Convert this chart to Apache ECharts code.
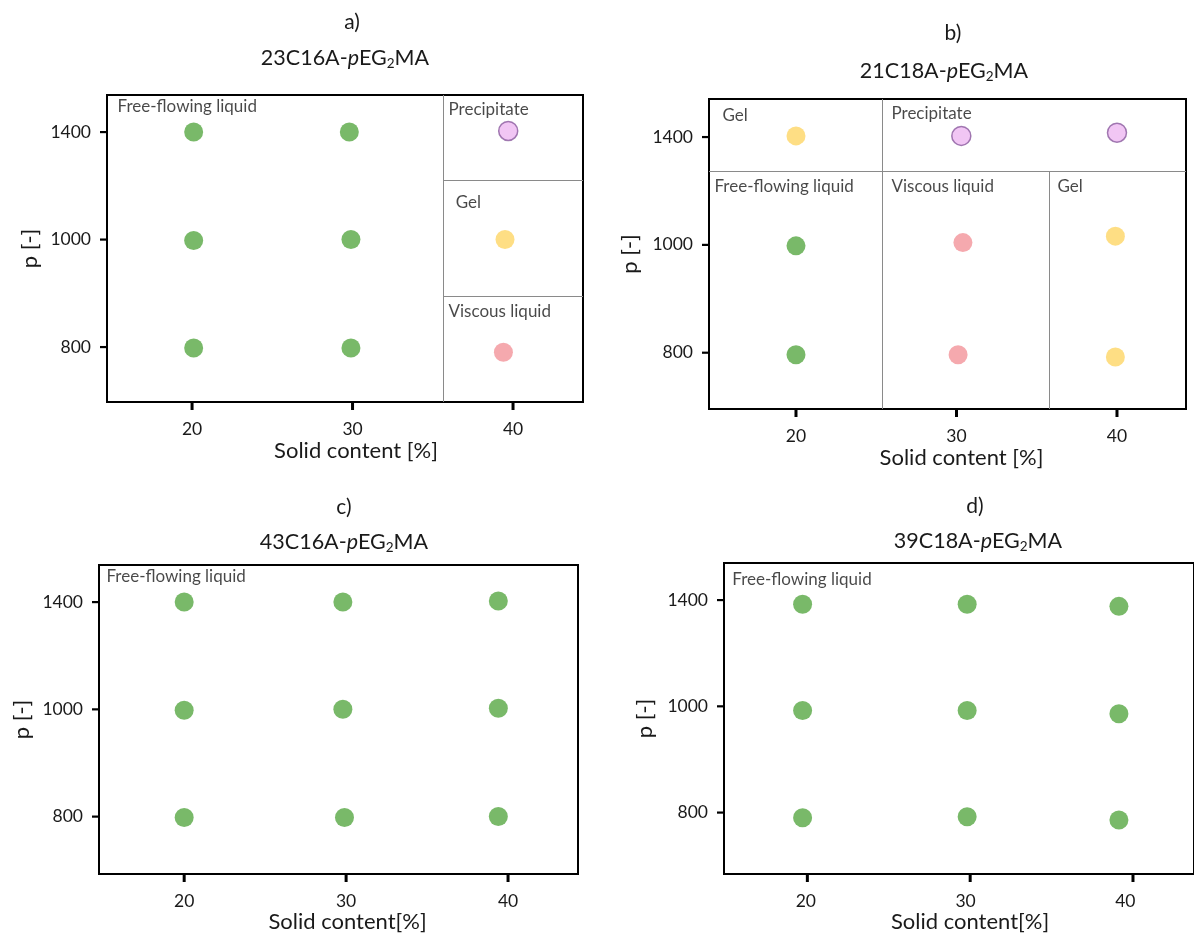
<!DOCTYPE html>
<html><head><meta charset="utf-8">
<script src="https://cdn.jsdelivr.net/npm/echarts@6/dist/echarts.min.js"></script>
<style>html,body{margin:0;padding:0;background:#fff;overflow:hidden}#c{width:1194px;height:935px}</style>
</head><body><div id="c"></div>
<script>
// p axis: the three p levels are drawn equally spaced (level 0 = 800, 1 = 1000, 2 = 1400)
const pTickLabels = ['800', '1000', '1400'];
const pTickLevels = [0, 1, 2];
const solidTicks = [20, 30, 40];

// points: [solid content %, p level, phase]
const pointsA = [
  [20.1, 2.00, 'free'], [29.8, 2.00, 'free'], [39.7, 2.01, 'precip'],
  [20.1, 0.99, 'free'], [29.9, 1.00, 'free'], [39.5, 1.00, 'gel'],
  [20.1, -0.01, 'free'], [29.9, -0.01, 'free'], [39.4, -0.05, 'viscous']
];
const pointsB = [
  [20.0, 2.01, 'gel'], [30.3, 2.01, 'precip'], [40.0, 2.04, 'precip'],
  [20.0, 0.99, 'free'], [30.4, 1.02, 'viscous'], [39.9, 1.08, 'gel'],
  [20.0, -0.02, 'free'], [30.1, -0.02, 'viscous'], [39.9, -0.04, 'gel']
];
const pointsC = [
  [20.0, 2.00, 'free'], [29.8, 2.00, 'free'], [39.4, 2.01, 'free'],
  [20.0, 0.99, 'free'], [29.8, 1.00, 'free'], [39.4, 1.01, 'free'],
  [20.0, -0.01, 'free'], [29.9, -0.01, 'free'], [39.4, 0.00, 'free']
];
const pointsD = [
  [19.8, 1.96, 'free'], [30.1, 1.96, 'free'], [39.6, 1.94, 'free'],
  [19.8, 0.96, 'free'], [30.1, 0.96, 'free'], [39.6, 0.93, 'free'],
  [19.8, -0.05, 'free'], [30.1, -0.04, 'free'], [39.6, -0.07, 'free']
];

// region labels: [text, solid content, p level] (label starts at this point)
const regionsA = [['Free-flowing liquid', 15.33, 2.24], ['Precipitate', 35.95, 2.205], ['Gel', 36.4, 1.34], ['Viscous liquid', 35.95, 0.326]];
const regionsB = [['Gel', 15.39, 2.195], ['Precipitate', 25.92, 2.213], ['Free-flowing liquid', 14.89, 1.545], ['Viscous liquid', 25.92, 1.545], ['Gel', 36.26, 1.545]];
const regionsC = [['Free-flowing liquid', 15.17, 2.234]];
const regionsD = [['Free-flowing liquid', 15.37, 2.196]];

// region boundaries: [x1, y1, x2, y2] (null = axis edge)
const dividersA = [[35.64, null, 35.64, null], [35.64, 1.553, null, 1.553], [35.64, 0.474, null, 0.474]];
const dividersB = [[null, 1.683, null, 1.683], [25.4, null, 25.4, null], [35.8, null, 35.8, 1.683]];
const dividersC = [];
const dividersD = [];

// axis ranges
const xRanges = [[14.7, 44.36], [14.58, 44.3], [14.74, 44.32], [14.88, 44.3]];
const yRanges = [[-0.512, 2.344], [-0.523, 2.352], [-0.536, 2.345], [-0.579, 2.348]];

const panelLetters = ['a)', 'b)', 'c)', 'd)'];
const panelPrefixes = ['23C16A', '21C18A', '43C16A', '39C18A'];
const xNames = ['Solid content [%]', 'Solid content [%]', 'Solid content[%]', 'Solid content[%]'];
const yName = 'p [-]';

const FONT = 'Lato';
const TXT = '#1a1a1a';
const grids = [
  {left: 107, top: 95, width: 476, height: 307},
  {left: 709, top: 99, width: 477, height: 310},
  {left: 99, top: 565, width: 479, height: 309},
  {left: 724, top: 563, width: 479, height: 311}
];
const letterPos = [[352, 22], [953, 33], [344, 507], [975, 506]];
const titlePos = [[345, 58], [944, 71], [344, 542], [978, 541]];
const xNameGaps = [38, 38, 37, 36];
const xNameShift = [22, 28, 18, 22];
const yNameGaps = [66, 68, 66, 68];

const phaseStyle = {
  free: {color: '#58a844'},
  gel: {color: '#fed665'},
  viscous: {color: '#f2939a'},
  precip: {color: '#edb8f1', borderColor: '#8a5a9e', borderWidth: 1.5}
};

const allPoints = [pointsA, pointsB, pointsC, pointsD];
const allRegions = [regionsA, regionsB, regionsC, regionsD];
const allDividers = [dividersA, dividersB, dividersC, dividersD];

const xAxes = [], yAxes = [], series = [], graphics = [];
for (let i = 0; i < 4; i++) {
  const xr = xRanges[i], yr = yRanges[i], g = grids[i];
  xAxes.push({
    type: 'value', gridIndex: i, min: xr[0], max: xr[1],
    name: xNames[i], nameLocation: 'middle', nameGap: xNameGaps[i],
    nameTextStyle: {fontSize: 22, color: TXT, fontFamily: FONT, padding: [0, 0, 0, xNameShift[i]]},
    axisLine: {show: true, onZero: false, lineStyle: {color: '#000', width: 2}},
    axisTick: {show: false},
    axisLabel: {customValues: solidTicks, margin: 18, fontSize: 17.5, color: TXT, fontFamily: FONT},
    splitLine: {show: false}
  });
  yAxes.push({
    type: 'value', gridIndex: i, min: yr[0], max: yr[1],
    name: yName, nameLocation: 'middle', nameGap: yNameGaps[i], nameRotate: 90,
    nameTextStyle: {fontSize: 22, color: TXT, fontFamily: FONT},
    axisLine: {show: true, onZero: false, lineStyle: {color: '#000', width: 2}},
    axisTick: {show: false},
    axisLabel: {customValues: pTickLevels, margin: 16, fontSize: 17.5, color: TXT, fontFamily: FONT,
      formatter: v => pTickLabels[pTickLevels.indexOf(Math.round(v))]},
    splitLine: {show: false}
  });
  if (allDividers[i].length) {
    series.push({
      type: 'lines', coordinateSystem: 'cartesian2d', xAxisIndex: i, yAxisIndex: i, silent: true, z: 1,
      lineStyle: {color: '#8a8a8a', width: 1, opacity: 1},
      data: allDividers[i].map(d => ({coords: [
        [d[0] === null ? xr[0] : d[0], d[1] === null ? yr[0] : d[1]],
        [d[2] === null ? xr[1] : d[2], d[3] === null ? yr[1] : d[3]]
      ]}))
    });
  }
  series.push({
    type: 'scatter', xAxisIndex: i, yAxisIndex: i, symbolSize: 19, silent: true, z: 3,
    data: allPoints[i].map(p => ({value: [p[0], p[1]], itemStyle: phaseStyle[p[2]]}))
  });
  series.push({
    type: 'scatter', xAxisIndex: i, yAxisIndex: i, symbol: 'rect', symbolSize: 1, silent: true, z: 4,
    itemStyle: {color: 'rgba(0,0,0,0)'},
    label: {show: true, position: 'right', distance: 0, fontSize: 17, color: TXT, fontFamily: FONT,
      formatter: p => p.data.name},
    data: allRegions[i].map(r => ({name: r[0], value: [r[1], r[2]]}))
  });
  graphics.push({
    type: 'text', x: letterPos[i][0], y: letterPos[i][1],
    style: {text: panelLetters[i], fontSize: 21, fill: TXT, fontFamily: FONT, align: 'center', verticalAlign: 'middle'}
  });
  graphics.push({
    type: 'text', x: titlePos[i][0], y: titlePos[i][1],
    style: {
      text: '{n|' + panelPrefixes[i] + '-}{i|p}{n|EG}{s|2}{n|MA}',
      align: 'center', verticalAlign: 'middle', fill: TXT,
      rich: {
        n: {fontSize: 21.5, fontFamily: FONT, fill: TXT},
        i: {fontSize: 21.5, fontFamily: FONT, fontStyle: 'italic', fill: TXT},
        s: {fontSize: 13.5, fontFamily: FONT, fill: TXT, padding: [11, 0, 0, 0]}
      }
    }
  });
  // outward tick marks, positioned from the same linear axis mapping as the grid
  solidTicks.forEach(v => {
    const px = g.left + (v - xr[0]) / (xr[1] - xr[0]) * g.width;
    graphics.push({type: 'rect', silent: true, z: 100,
      shape: {x: px - 1.5, y: g.top + g.height, width: 3, height: 8}, style: {fill: '#000'}});
  });
  pTickLevels.forEach(v => {
    const py = g.top + g.height - (v - yr[0]) / (yr[1] - yr[0]) * g.height;
    graphics.push({type: 'rect', silent: true, z: 100,
      shape: {x: g.left - 7, y: py - 1, width: 7, height: 2.2}, style: {fill: '#000'}});
  });
}

const chart = echarts.init(document.getElementById('c'), null, {renderer: 'canvas'});
chart.setOption({
  animation: false,
  backgroundColor: '#fff',
  grid: grids.map(g => Object.assign({show: true, borderColor: '#000', borderWidth: 2, backgroundColor: 'transparent', containLabel: false}, g)),
  xAxis: xAxes,
  yAxis: yAxes,
  series: series,
  graphic: graphics
});
</script></body></html>
